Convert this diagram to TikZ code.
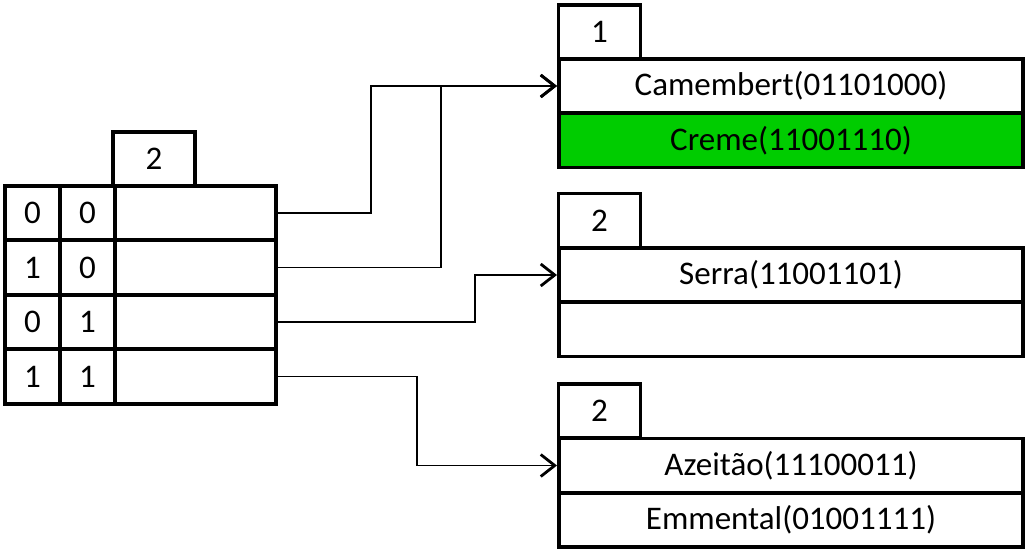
\documentclass[tikz,border=0pt]{standalone}
\usepackage{fontspec}
\setmainfont{Carlito}
\usetikzlibrary{arrows.meta}
\definecolor{cremegreen}{RGB}{0,204,0}

\begin{document}
\begin{tikzpicture}[x=1pt,y=-1pt,>={Straight Barb[length=14pt,width=22pt,line width=2.8pt]},shorten >=2pt,node distance=54.5pt,
    cell/.style={rectangle,draw,line width=3.8pt,inner sep=0pt,outer sep=0pt,font=\fontsize{33}{40}\selectfont},
    bit/.style={cell,minimum width=55pt,minimum height=54.5pt},
    ptr/.style={cell,minimum width=161pt,minimum height=54.5pt},
    depth/.style={cell,minimum width=82pt,minimum height=54pt},
    slot/.style={cell,minimum width=464pt,minimum height=54pt},
    link/.style={line width=1.4pt}]

            \useasboundingbox (0,0) rectangle (1032,554);

            % directory
            \node[depth] (gd) at (154,159) {2};
            \node[bit] (k00a) at (32.5,213) {0};
            \node[bit] (k00b) [right of = k00a, node distance=55pt] {0};
            \node[ptr] (k00) [right of = k00b, node distance=108pt] {};
            \node[bit] (k10a) [below of = k00a] {1};
            \node[bit] (k10b) [below of = k00b] {0};
            \node[ptr] (k10) [below of = k00] {};
            \node[bit] (k01a) [below of = k10a] {0};
            \node[bit] (k01b) [below of = k10b] {1};
            \node[ptr] (k01) [below of = k10] {};
            \node[bit] (k11a) [below of = k01a] {1};
            \node[bit] (k11b) [below of = k01b] {1};
            \node[ptr] (k11) [below of = k01] {};

            % buckets
            \node[depth] (ld1) at (599.5,32) {1};
            \node[slot] (s1a) at (791,86) {Camembert(01101000)};
            \node[slot, fill=cremegreen] (s1b) [below of = s1a] {Creme(11001110)};

            \node[depth] (ld2) at (599.5,220.5) {2};
            \node[slot] (s2a) at (791,275) {Serra(11001101)};
            \node[slot] (s2b) [below of = s2a] {};

            \node[depth] (ld3) at (599.5,411) {2};
            \node[slot] (s3a) at (791,465.5) {Azeitão(11100011)};
            \node[slot] (s3b) [below of = s3a] {Emmental(01001111)};

            \draw[->,link] (k00.east) -- ++(95,0) |- (s1a.west);
            \draw[->,link] (k10.east) -- ++(165,0) |- (s1a.west);
            \draw[->,link] (k01.east) -- ++(199,0) |- (s2a.west);
            \draw[->,link] (k11.east) -- ++(141,0) |- (s3a.west);

        \end{tikzpicture}
\end{document}
